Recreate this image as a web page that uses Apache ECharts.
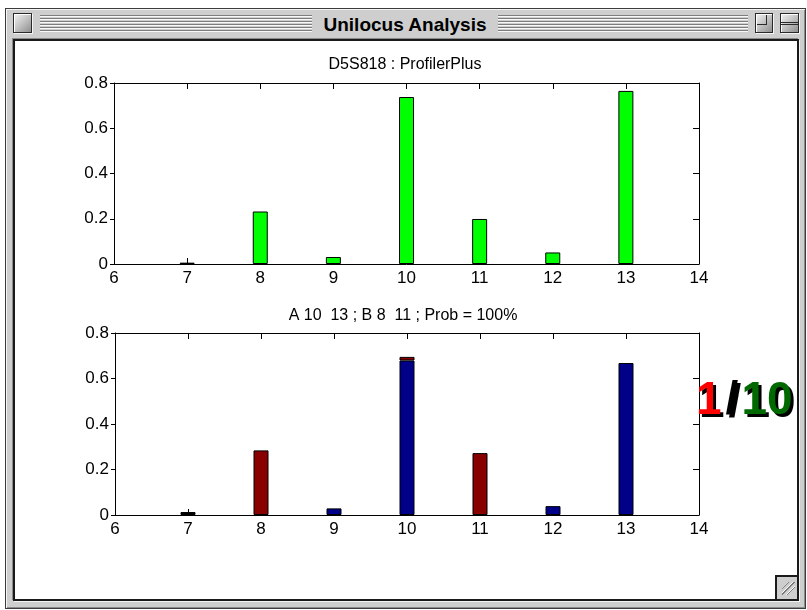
<!DOCTYPE html>
<html>
<head>
<meta charset="utf-8">
<script src="https://cdn.jsdelivr.net/npm/echarts@6/dist/echarts.min.js"></script>
<style>
  html, body { margin: 0; padding: 0; background: #fff; }
  body { width: 807px; height: 610px; position: relative; overflow: hidden; font-family: "Liberation Sans", Arial, sans-serif; }
  .abs { position: absolute; box-sizing: border-box; }
  #outer { left: 5px; top: 8px; width: 801px; height: 601px; background: #cecece; border: 1px solid #3c3c3c;
           box-shadow: inset 1px 1px 0 #f4f4f4, inset -1px -1px 0 #8c8c8c; }
  .stripes { top: 15px; height: 18px;
             background: repeating-linear-gradient(to bottom, #7d7d7d 0 1px, #f8f8f8 1px 2px, #cecece 2px 3px); }
  #wtitle { left: 5px; width: 800px; top: 14px; height: 22px; text-align: center; font-weight: bold; font-size: 19px;
            line-height: 22px; color: #000; letter-spacing: 0px; }
  .box { border: 1px solid #2a2a2a; background: linear-gradient(135deg, #f4f4f4 0%, #bdbdbd 55%, #8e8e8e 100%);
         box-shadow: inset 1px 1px 0 #fff, 1px 1px 0 #f4f4f4; }
  #content { left: 13px; top: 39px; width: 786px; height: 562px; background: #fff; border: 2px solid #1a1a1a;
             box-shadow: -1px -1px 0 #8a8a8a, 1px 1px 0 #f4f4f4; }
  #grow { left: 775px; top: 575px; width: 22px; height: 24px; background: #cecece; border-left: 2px solid #1a1a1a; border-top: 2px solid #1a1a1a; }
  #growlines { left: 5px; top: 5px; width: 13px; height: 13px;
               background: repeating-linear-gradient(-45deg, transparent 0 1px, #7a7a7a 1px 2px, #fafafa 2px 3px, transparent 3px 4px);
               clip-path: polygon(50% 0, 100% 0, 100% 50%, 50% 100%, 0 100%, 0 50%); }
  #chart { left: 0; top: 0; width: 807px; height: 610px; z-index: 2; }
  #ratio { left: 696px; top: 373px; z-index: 3; font-family: "Liberation Sans", Arial, sans-serif; font-weight: bold;
           font-size: 46px; line-height: 50px; letter-spacing: 0px; text-shadow: 3px 3px 0 #000; white-space: nowrap; }
  #ratio span { display: inline-block; }
</style>
</head>
<body>
<div id="outer" class="abs"></div>
<div class="abs stripes" style="left:40px; width:272px;"></div>
<div class="abs stripes" style="left:498px; width:250px;"></div>
<div id="wtitle" class="abs">Unilocus Analysis</div>
<div class="abs box" style="left:13px; top:13px; width:19px; height:20px;"></div>
<div class="abs box" style="left:755px; top:13px; width:18px; height:20px;"><div class="abs" style="left:1px;top:1px;width:10px;height:10px;border-right:1px solid #2a2a2a;border-bottom:1px solid #2a2a2a;"></div></div>
<div class="abs box" style="left:780px; top:13px; width:19px; height:20px;"><div class="abs" style="left:0;top:8px;width:17px;height:3px;border-top:1px solid #2a2a2a;border-bottom:1px solid #2a2a2a;"></div></div>
<div id="content" class="abs"></div>
<div id="grow" class="abs"><div id="growlines" class="abs"></div></div>
<div id="chart" class="abs"></div>
<div id="ratio" class="abs"><span style="color:#ff0000">1</span><span style="color:#000;margin-left:4px;margin-right:3px">/</span><span style="color:#006a00">10</span></div>
<script>
// ---- data ----
const alleles = [7, 8, 9, 10, 11, 12, 13];
const profilerPlusFreq = [0.006, 0.232, 0.031, 0.738, 0.199, 0.051, 0.765];
const contributorA = [null, null, 0.029, 0.679, null, 0.039, 0.668];   // blue (A)
const contributorB = [null, 0.284, null, 0.016, 0.272, null, null];    // dark red (B)
const unassigned   = [0.013, null, null, null, null, null, null];      // black
const xTickLabels = ['6', '7', '8', '9', '10', '11', '12', '13', '14'];
const yTickLabels = ['0', '0.2', '0.4', '0.6', '0.8'];
const topTitle = 'D5S818 : ProfilerPlus';
const bottomTitle = 'A 10  13 ; B 8  11 ; Prob = 100%';

const FONT = "'Liberation Sans', Arial, sans-serif";
const labelStyle = { color: '#000', fontSize: 17, fontFamily: FONT };

function xAxes(g) {
  const base = { gridIndex: g, type: 'category', data: xTickLabels, boundaryGap: false, splitLine: { show: false },
    axisLine: { show: true, onZero: false, lineStyle: { color: '#000', width: 1 } },
    axisTick: { show: true, inside: true, length: 6, interval: 0, lineStyle: { color: '#000', width: 1 } } };
  return [
    Object.assign({}, base, { position: 'bottom',
      axisLabel: Object.assign({ margin: 6, interval: 0 }, labelStyle) }),
    Object.assign({}, base, { position: 'top', axisLabel: { show: false } })
  ];
}
function yAxes(g) {
  const base = { gridIndex: g, type: 'value', min: 0, max: 0.8, interval: 0.2, splitLine: { show: false },
    axisLine: { show: true, onZero: false, lineStyle: { color: '#000', width: 1 } } };
  return [
    Object.assign({}, base, { position: 'left',
      axisTick: { show: true, inside: false, length: 4, lineStyle: { color: '#000' } },
      axisLabel: Object.assign({ margin: 6, formatter: v => yTickLabels[Math.round(v / 0.2)] }, labelStyle) }),
    Object.assign({}, base, { position: 'right',
      axisTick: { show: true, inside: true, length: 6, lineStyle: { color: '#000' } },
      axisLabel: { show: false } })
  ];
}
// align each allele value with its tick category
const onTicks = arr => xTickLabels.map(l => { const i = alleles.indexOf(Number(l)); return i < 0 ? null : arr[i]; });
const barStyle = c => ({ color: c, borderColor: '#000', borderWidth: 1 });

const chart = echarts.init(document.getElementById('chart'), null, { renderer: 'canvas' });
chart.setOption({
  backgroundColor: 'transparent',
  animation: false,
  title: [
    { text: topTitle, left: 405, top: 57, textAlign: 'center', padding: 0,
      textStyle: { fontSize: 16, fontWeight: 'normal', color: '#000', fontFamily: FONT } },
    { text: bottomTitle, left: 403, top: 308, textAlign: 'center', padding: 0,
      textStyle: { fontSize: 16, fontWeight: 'normal', color: '#000', fontFamily: FONT } }
  ],
  grid: [
    { left: 114, top: 83, width: 585, height: 181 },
    { left: 115, top: 333, width: 584, height: 182 }
  ],
  xAxis: xAxes(0).concat(xAxes(1)),
  yAxis: yAxes(0).concat(yAxes(1)),
  series: [
    { type: 'bar', name: 'ProfilerPlus', xAxisIndex: 0, yAxisIndex: 0, barWidth: 15,
      data: onTicks(profilerPlusFreq), itemStyle: barStyle('#00ff00') },
    { type: 'bar', name: 'A', xAxisIndex: 2, yAxisIndex: 2, barWidth: 15, stack: 'mix',
      data: onTicks(contributorA), itemStyle: barStyle('#000088') },
    { type: 'bar', name: 'B', xAxisIndex: 2, yAxisIndex: 2, barWidth: 15, stack: 'mix',
      data: onTicks(contributorB), itemStyle: barStyle('#880000') },
    { type: 'bar', name: 'unassigned', xAxisIndex: 2, yAxisIndex: 2, barWidth: 15, stack: 'mix',
      data: onTicks(unassigned), itemStyle: barStyle('#000000') }
  ]
});
</script>
</body>
</html>
